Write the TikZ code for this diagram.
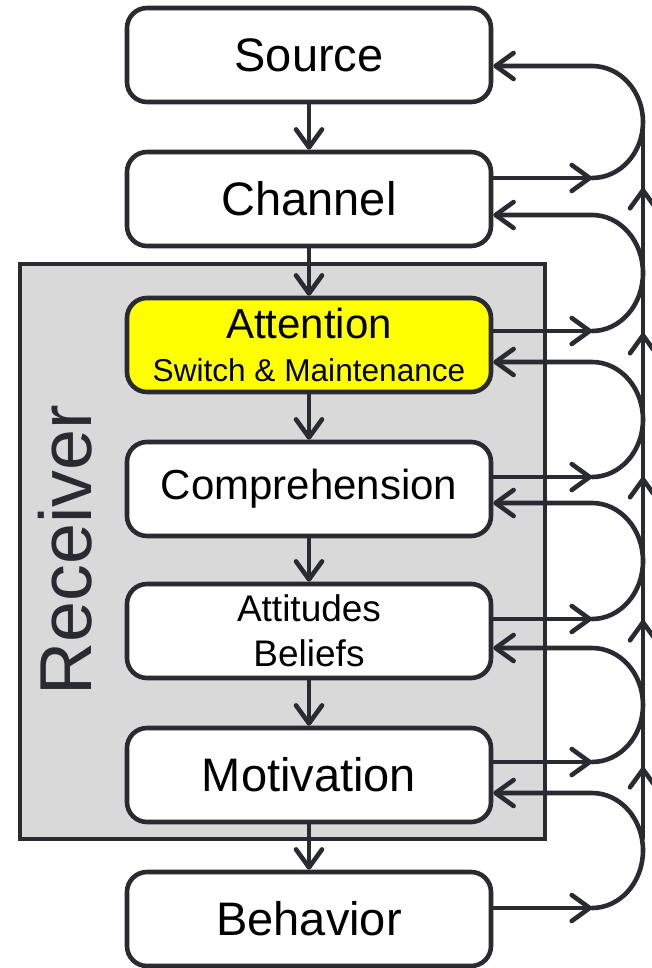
\documentclass[tikz,border=0pt]{standalone}
\usepackage{fontspec}
\setmainfont{Liberation Sans}
\usetikzlibrary{arrows.meta}

\definecolor{flowInk}{HTML}{2A2A33}
\definecolor{flowGray}{HTML}{D9D9D9}
\definecolor{flowYellow}{HTML}{FFFF00}

\newcommand\stagefont{\fontsize{23.5}{28}\selectfont}
\newcommand\midfont{\fontsize{21}{21.5}\selectfont}
\newcommand\notefont{\fontsize{15.8}{21.5}\selectfont}
\newcommand\pairfont{\fontsize{18.5}{22.5}\selectfont}

\tikzset{
  stage/.style={draw=flowInk,line width=2.3pt,rounded corners=10pt,fill=white,
    minimum width=182pt,minimum height=47pt,align=center,inner sep=0pt},
  flow/.style={draw=flowInk,line width=2.3pt,line cap=round,
    -{Straight Barb[length=9pt,width=13pt,round]}},
  spine/.style={draw=flowInk,line width=2.3pt,line cap=round},
}

\begin{document}
\begin{tikzpicture}[x=0.5pt,y=-0.5pt]
  \useasboundingbox (0,0) rectangle (652,968);

  \draw[flowInk,fill=flowGray,line width=2.3pt] (20,264) rectangle (545,839);
  \node[rotate=90,text=flowInk,font=\fontsize{36.8}{40}\selectfont] (rcv) at (65,550) {Receiver};

  \node[stage,font=\stagefont] (src) at (309,55) {Source};
  \node[stage,font=\stagefont] (chn) at (309,199) {Channel};
  \node[stage,font=\notefont,fill=flowYellow] (att) at (309,345) {{\midfont Attention}\\Switch \& Maintenance};
  \node[stage,font=\midfont] (cmp) at (309,489) {Comprehension};
  \node[stage,font=\pairfont] (atb) at (309,631) {Attitudes\\Beliefs};
  \node[stage,font=\stagefont] (mot) at (309,775) {Motivation};
  \node[stage,font=\stagefont] (bhv) at (309,919) {Behavior};

  \foreach \a/\b in {src/chn,chn/att,att/cmp,cmp/atb,atb/mot,mot/bhv}
    \draw[flow] (\a) -- (\b);

  \foreach \i/\yy in {0/838,1/767,2/620,3/477,4/333,5/188,6/122}
    \coordinate (sp\i) at (643,\yy);
  \foreach \i/\j in {0/1,1/2,2/3,3/4,4/5}
    \draw[flow] (sp\i) -- (sp\j);
  \draw[spine] (sp5) -- (sp6);

  \foreach \lo/\hi/\yo/\yi in {chn/src/178/66,att/chn/331/215,cmp/att/477/362,
      atb/cmp/619/503,mot/atb/762/648,bhv/mot/908/793} {
    \coordinate (\lo-out) at (592,\yo);
    \draw[flow] (\lo.east |- 0,\yo) -- (\lo-out);
    \draw[flow] (\lo-out) arc[start angle=90,end angle=-90,x radius=51,y radius={(\yo-\yi)/2}]
      -- (\hi.east |- 0,\yi);
  }
\end{tikzpicture}
\end{document}
